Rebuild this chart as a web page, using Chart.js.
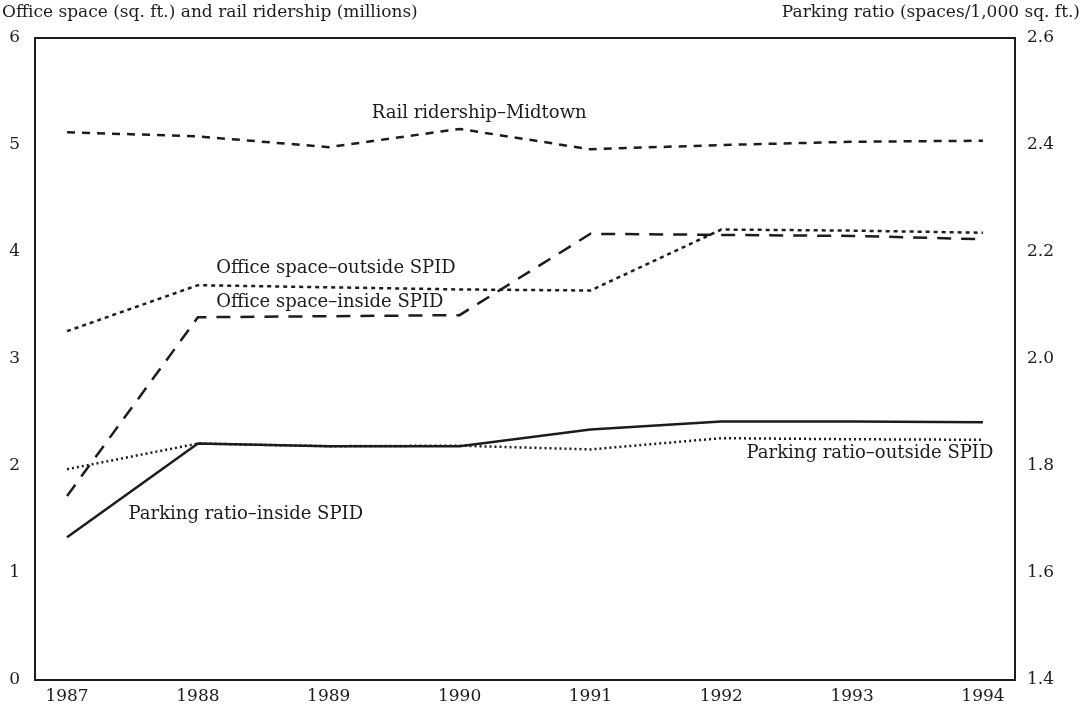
<!DOCTYPE html>
<html>
<head>
<meta charset="utf-8">
<script src="https://cdn.jsdelivr.net/npm/chart.js@4.4.1/dist/chart.umd.min.js"></script>
<style>
  html, body { margin: 0; padding: 0; background: #fff; }
  #wrap { width: 1083px; height: 711px; position: relative; }
</style>
</head>
<body>
<div id="wrap"><canvas id="chart"></canvas></div>
<script>
const years = [1987, 1988, 1989, 1990, 1991, 1992, 1993, 1994];

// left axis: millions
const railMidtown = [5.12, 5.08, 4.98, 5.15, 4.96, 5.00, 5.03, 5.04];
const officeOutside = [3.26, 3.69, 3.67, 3.65, 3.64, 4.21, 4.20, 4.18];
const officeInside = [1.72, 3.39, 3.40, 3.41, 4.17, 4.16, 4.15, 4.12];

// right axis: spaces per 1,000 sq. ft.
const parkingInside = [1.667, 1.842, 1.837, 1.837, 1.868, 1.883, 1.883, 1.882];
const parkingOutside = [1.794, 1.842, 1.837, 1.838, 1.831, 1.852, 1.850, 1.849];

const leftTitle = 'Office space (sq. ft.) and rail ridership (millions)';
const rightTitle = 'Parking ratio (spaces/1,000 sq. ft.)';

// series labels written on the plot: [text, year, left-axis value, align]
const seriesLabels = [
    ['Rail ridership\u2013Midtown', 1990.15, 5.3, 'center'],
    ['Office space\u2013outside SPID', 1988.14, 3.85, 'left'],
    ['Office space\u2013inside SPID', 1988.14, 3.53, 'left'],
    ['Parking ratio\u2013outside SPID', 1994.08, 2.12, 'right'],
    ['Parking ratio\u2013inside SPID', 1987.47, 1.55, 'left']
];

const ink = '#1c1c1c';
const fontFamily = '"DejaVu Serif", serif';

function pts(values) {
    return years.map((yr, i) => ({ x: yr, y: values[i] }));
}

// frame, axis titles and series labels
const decorPlugin = {
    id: 'decor',
    afterDraw(chart) {
        const ctx = chart.ctx;
        const a = chart.chartArea;
        const xs = chart.scales.x;
        const ys = chart.scales.y;
        ctx.save();
        ctx.strokeStyle = ink;
        ctx.lineWidth = 2;
        ctx.strokeRect(a.left, a.top, a.right - a.left, a.bottom - a.top);

        ctx.fillStyle = ink;
        ctx.font = '17px ' + fontFamily;
        ctx.textBaseline = 'middle';
        ctx.textAlign = 'left';
        ctx.fillText(leftTitle, 2, 13);
        ctx.textAlign = 'right';
        ctx.fillText(rightTitle, chart.width - 3, 13);

        ctx.font = '18px ' + fontFamily;
        seriesLabels.forEach(([text, x, y, align]) => {
            ctx.textAlign = align;
            ctx.fillText(text, xs.getPixelForValue(x), ys.getPixelForValue(y));
        });
        ctx.restore();
    }
};

const lineBase = { borderColor: ink, borderWidth: 2.5, pointRadius: 0, tension: 0, fill: false };

new Chart(document.getElementById('chart'), {
    type: 'line',
    data: {
        datasets: [
            Object.assign({ label: 'Rail ridership', data: pts(railMidtown), borderDash: [8, 7], yAxisID: 'y' }, lineBase),
            Object.assign({ label: 'Office space outside', data: pts(officeOutside), borderDash: [4, 4], yAxisID: 'y' }, lineBase),
            Object.assign({ label: 'Office space inside', data: pts(officeInside), borderDash: [14, 10], yAxisID: 'y' }, lineBase),
            Object.assign({ label: 'Parking inside', data: pts(parkingInside), yAxisID: 'y1' }, lineBase),
            Object.assign({ label: 'Parking outside', data: pts(parkingOutside), borderDash: [2, 3], yAxisID: 'y1' }, lineBase)
        ]
    },
    options: {
        responsive: true,
        maintainAspectRatio: false,
        animation: false,
        layout: { padding: { top: 38, left: 0, right: 0, bottom: 0 } },
        plugins: {
            legend: { display: false },
            tooltip: { enabled: false }
        },
        scales: {
            x: {
                type: 'linear',
                min: 1986.755,
                max: 1994.245,
                afterBuildTicks: s => { s.ticks = years.map(v => ({ value: v })); },
                afterFit: s => { s.height = 31; },
                grid: { display: false, drawTicks: false },
                border: { display: false },
                ticks: {
                    color: ink,
                    padding: 6,
                    font: { family: fontFamily, size: 17 },
                    callback: v => String(v)
                }
            },
            y: {
                position: 'left',
                min: 0,
                max: 6,
                afterFit: s => { s.width = 35; },
                grid: { display: false, drawTicks: false },
                border: { display: false },
                ticks: {
                    stepSize: 1,
                    color: ink,
                    padding: 15,
                    font: { family: fontFamily, size: 17 }
                }
            },
            y1: {
                position: 'right',
                min: 1.4,
                max: 2.6,
                afterFit: s => { s.width = 68; },
                grid: { display: false, drawTicks: false },
                border: { display: false },
                ticks: {
                    stepSize: 0.2,
                    color: ink,
                    padding: 12,
                    font: { family: fontFamily, size: 17 },
                    callback: v => v.toFixed(1)
                }
            }
        }
    },
    plugins: [decorPlugin]
});
</script>
</body>
</html>
